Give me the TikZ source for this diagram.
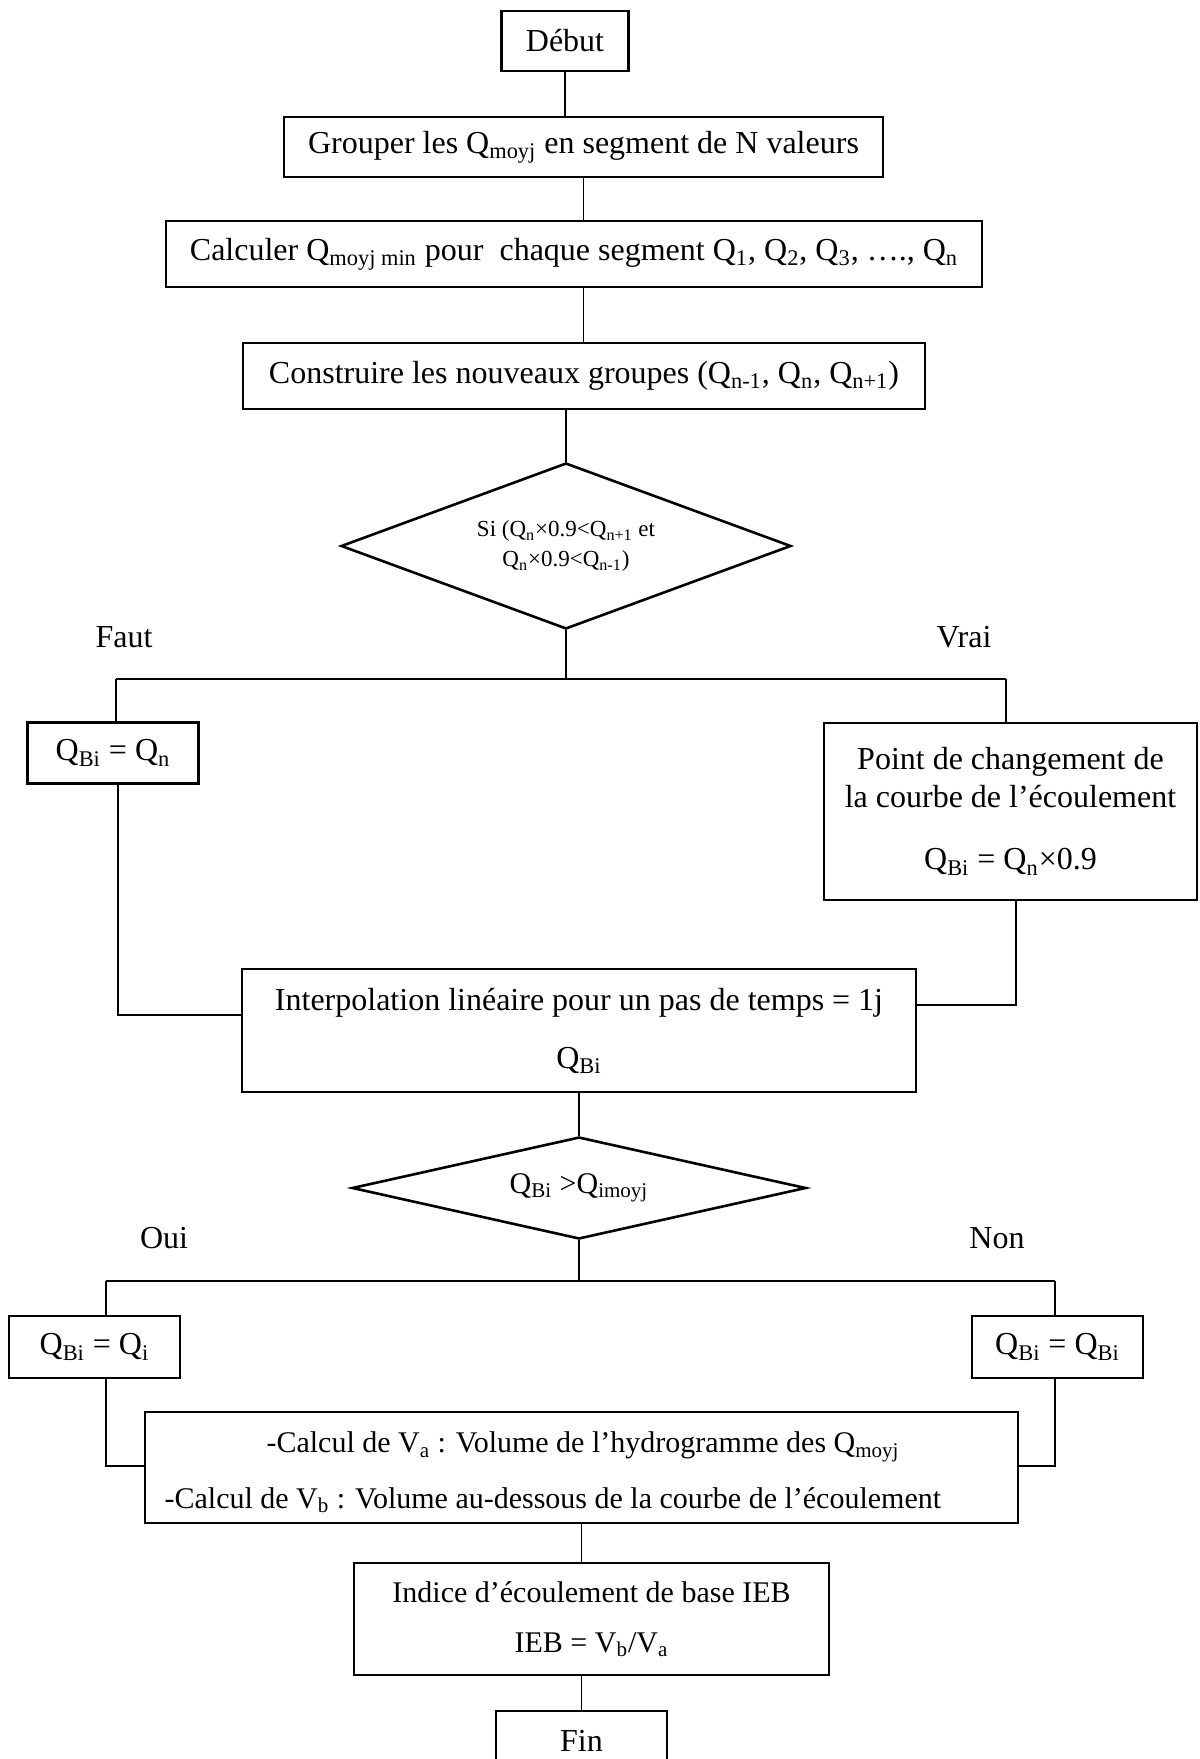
\documentclass[tikz,border=0pt]{standalone}
\usepackage{fontspec}
\setmainfont{Liberation Serif}
\usepackage{tikz}
\usetikzlibrary{positioning}
\usetikzlibrary{shapes.geometric}
\newcommand{\sbs}[1]{\textsubscript{#1}}

\begin{document}
\begin{tikzpicture}[x=0.5pt,y=-0.5pt,line width=0.6pt,font=\fontsize{16}{19}\selectfont,
  box/.style={draw,line width=1.1pt,inner sep=2pt,align=center},
  test/.style={diamond,draw,line width=1.3pt,inner sep=0pt,align=center},
  lbl/.style={inner sep=0pt}]
\useasboundingbox (0,0) rectangle (1199,1759);
\node[box,minimum width=63.5pt,minimum height=30pt]  (deb)   at (565,41)     {Début};
\node[box,minimum width=299.5pt,minimum height=30pt] (grp)   at (583.5,147)  {Grouper les Q\sbs{moyj} en segment de N valeurs};
\node[box,minimum width=408pt,minimum height=33pt]   (calc)  at (574,254)    {Calculer Q\sbs{moyj min} pour\ \ chaque segment Q\sbs{1}, Q\sbs{2}, Q\sbs{3}, …., Q\sbs{n}};
\node[box,minimum width=341pt,minimum height=33pt]   (cons)  at (584,376)    {Construire les nouveaux groupes (Q\sbs{n-1}, Q\sbs{n}, Q\sbs{n+1})};
\node[test,aspect=2.7,minimum width=225pt,minimum height=83pt,font=\fontsize{11.5}{15}\selectfont]
                                                     (si)    at (566,546)    {Si (Q\sbs{n}×0.9<Q\sbs{n+1} et\\Q\sbs{n}×0.9<Q\sbs{n-1})};
\node[lbl] (faut) at (124,637) {Faut};
\node[lbl] (vrai) at (964,637) {Vrai};
\coordinate (fl) at (116,679);
\coordinate (fr) at (1006,679);
\node[box,minimum width=85.5pt,minimum height=30.5pt] (qn)   at (113,753)    {Q\sbs{Bi} = Q\sbs{n}};
\node[box,minimum width=186.5pt,minimum height=88.5pt] (pt)  at (1010.5,811.5) {Point de changement de\\la courbe de l’écoulement\\[12pt]Q\sbs{Bi} = Q\sbs{n}×0.9};
\node[box,minimum width=337pt,minimum height=61.5pt] (intp)  at (579,1030.5) {Interpolation linéaire pour un pas de temps = 1j\\[10pt]Q\sbs{Bi}};
\coordinate (lj) at (118,1015);
\coordinate (rj) at (1016,1005);
\node[test,aspect=4.5,minimum width=227pt,minimum height=51pt,font=\fontsize{15}{18}\selectfont]
                                                     (sib)   at (579,1188)   {Q\sbs{Bi} >Q\sbs{imoyj}};
\node[lbl] (oui) at (164,1238) {Oui};
\node[lbl] (non) at (997,1238) {Non};
\coordinate (gl) at (106,1281);
\coordinate (gr) at (1055,1281);
\node[box,minimum width=85.5pt,minimum height=31pt]  (qi)    at (94.5,1347)  {Q\sbs{Bi} = Q\sbs{i}};
\node[box,minimum width=85.5pt,minimum height=31pt]  (qb)    at (1057.5,1347) {Q\sbs{Bi} = Q\sbs{Bi}};
\node[box,minimum width=436.5pt,minimum height=55.5pt] (vol) at (581.5,1467.5) {};
\node[lbl,font=\fontsize{15}{18}\selectfont] (va) at (583,1447) {-Calcul de V\sbs{a} : Volume de l’hydrogramme des Q\sbs{moyj}};
\node[lbl,anchor=west,font=\fontsize{15}{18}\selectfont] (vb) at (164,1500) {-Calcul de V\sbs{b} : Volume au-dessous de la courbe de l’écoulement};
\coordinate (ol) at (106,1466);
\coordinate (or) at (1055,1466);
\node[box,minimum width=237.5pt,minimum height=56pt,font=\fontsize{15}{18}\selectfont]
                                                     (ieb)   at (591.5,1619) {Indice d’écoulement de base IEB\\[7pt]IEB = V\sbs{b}/V\sbs{a}};
\node[box,minimum width=85.5pt,minimum height=30pt]  (fin)   at (581.5,1741) {Fin};
\draw (deb.south) -- (deb.south |- grp.north);
\draw (grp.south) -- (grp.south |- calc.north);
\draw (calc.south -| grp.south) -- (grp.south |- cons.north);
\draw (si.north) -- (si.north |- cons.south);
\draw (si.south) -- (si.south |- fl);
\draw (fl) -- (fr);
\draw (fl) -- (fl |- qn.north);
\draw (fr) -- (fr |- pt.north);
\draw (qn.south -| lj) -- (lj) -- (lj -| intp.west);
\draw (pt.south -| rj) -- (rj) -- (rj -| intp.east);
\draw (intp.south) -- (sib.north);
\draw (sib.south) -- (sib.south |- gl);
\draw (gl) -- (gr);
\draw (gl) -- (gl |- qi.north);
\draw (gr) -- (gr |- qb.north);
\draw (qi.south -| ol) -- (ol) -- (ol -| vol.west);
\draw (qb.south -| or) -- (or) -- (or -| vol.east);
\draw (vol.south) -- (vol.south |- ieb.north);
\draw (fin.north) -- (fin.north |- ieb.south);
\end{tikzpicture}
\end{document}
